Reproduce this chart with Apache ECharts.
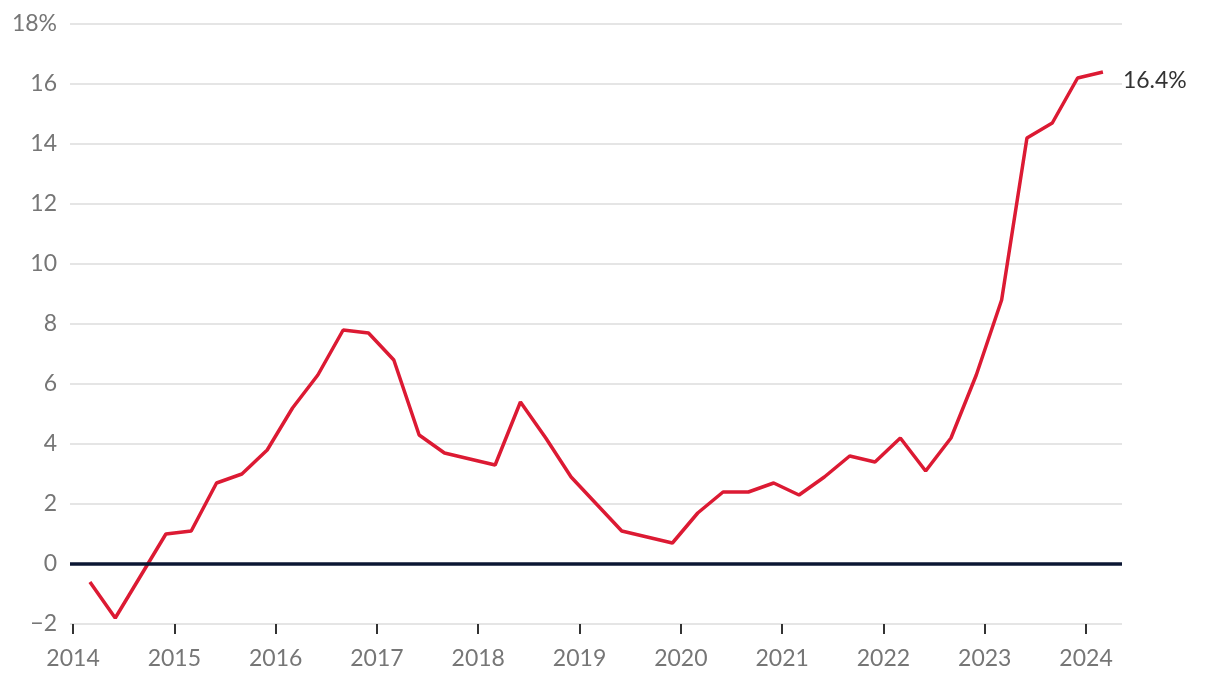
<!DOCTYPE html>
<html>
<head>
<meta charset="utf-8">
<script src="https://cdn.jsdelivr.net/npm/echarts@6/dist/echarts.min.js"></script>
<style>
html,body{margin:0;padding:0;background:#fff;}
#chart{width:1220px;height:688px;}
</style>
</head>
<body>
<div id="chart"></div>
<script>
// Quarter (year-month) of each observation
const quarters = [
  '2014-03','2014-06','2014-09','2014-12',
  '2015-03','2015-06','2015-09','2015-12',
  '2016-03','2016-06','2016-09','2016-12',
  '2017-03','2017-06','2017-09','2017-12',
  '2018-03','2018-06','2018-09','2018-12',
  '2019-03','2019-06','2019-09','2019-12',
  '2020-03','2020-06','2020-09','2020-12',
  '2021-03','2021-06','2021-09','2021-12',
  '2022-03','2022-06','2022-09','2022-12',
  '2023-03','2023-06','2023-09','2023-12',
  '2024-03'
];
// Rate, %
const values = [
  -0.6,-1.8,-0.4,1.0,
  1.1,2.7,3.0,3.8,
  5.2,6.3,7.8,7.7,
  6.8,4.3,3.7,3.5,
  3.3,5.4,4.2,2.9,
  2.0,1.1,0.9,0.7,
  1.7,2.4,2.4,2.7,
  2.3,2.9,3.6,3.4,
  4.2,3.1,4.2,6.3,
  8.8,14.2,14.7,16.2,
  16.4
];
const yearTicks = [2014,2015,2016,2017,2018,2019,2020,2021,2022,2023,2024];
const yTicks = [-2,0,2,4,6,8,10,12,14,16,18];

function toDecimalYear(q){
  const [y,m] = q.split('-').map(Number);
  return y + (m - 1) / 12;
}
const seriesData = quarters.map((q,i)=>[toDecimalYear(q), values[i]]);

const FONT = 'Lato, "Open Sans", sans-serif';
const chart = echarts.init(document.getElementById('chart'), null, {renderer:'canvas'});
chart.setOption({
  animation:false,
  backgroundColor:'#ffffff',
  grid:{left:70, right:98, top:24, bottom:64, containLabel:false},
  xAxis:{
    type:'value',
    min:2013.97,
    max:2024.355,
    axisLine:{show:false, onZero:false},
    splitLine:{show:false},
    axisTick:{show:true, customValues:yearTicks, length:10, lineStyle:{color:'#333333', width:2}},
    axisLabel:{
      customValues:yearTicks,
      margin:23,
      color:'#767676',
      fontFamily:FONT,
      fontSize:23,
      formatter:v=>String(v)
    }
  },
  yAxis:{
    type:'value',
    min:-2,
    max:18,
    interval:2,
    axisLine:{show:false},
    axisTick:{show:false},
    splitLine:{show:true, lineStyle:{color:'#e5e5e5', width:2}},
    axisLabel:{
      margin:13,
      color:'#767676',
      fontFamily:FONT,
      fontSize:23,
      formatter:v=>{
        const s = v < 0 ? '\u2212' + Math.abs(v) : String(v);
        return v === yTicks[yTicks.length-1] ? s + '%' : s;
      }
    }
  },
  series:[{
    type:'line',
    data:seriesData,
    showSymbol:false,
    symbol:'none',
    lineStyle:{color:'#dc1a33', width:3.5},
    itemStyle:{color:'#dc1a33'},
    endLabel:{
      show:true,
      distance:20,
      offset:[0,9],
      color:'#333333',
      fontFamily:FONT,
      fontSize:23,
      formatter:p=>p.value[1].toFixed(1)+'%'
    },
    markLine:{
      silent:true,
      symbol:'none',
      label:{show:false},
      lineStyle:{color:'#0c1733', width:3.5, type:'solid'},
      data:[{yAxis:0}]
    },
    z:3
  }]
});
</script>
</body>
</html>
